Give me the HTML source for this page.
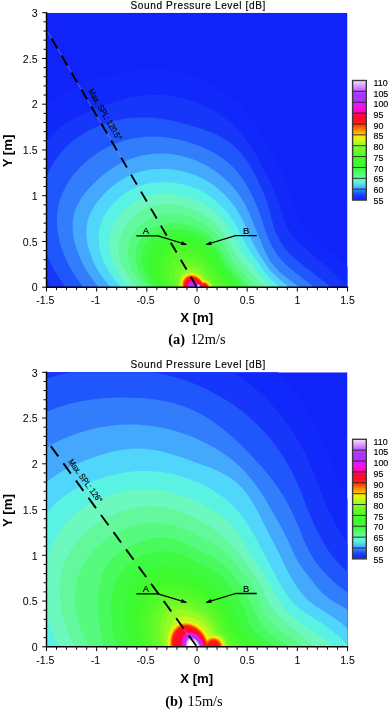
<!DOCTYPE html>
<html><head><meta charset="utf-8"><title>Sound Pressure Level</title>
<style>
html,body{margin:0;padding:0;background:#fff;}
body{width:388px;height:710px;overflow:hidden;}
svg{display:block;}
text{font-family:"Liberation Sans",sans-serif;fill:#000;}
.tk text{font-size:10.6px;}
.cb text{font-size:8.9px;stroke:#000;stroke-width:0.15px;}
.ti{font-size:10.1px;letter-spacing:0.62px;stroke:#000;stroke-width:0.15px;}
.xl{font-size:13.2px;font-weight:bold;}
.cap{font-family:"Liberation Serif",serif;font-size:14.4px;}
.cap tspan{font-family:"Liberation Serif",serif;}
.mx{font-size:7.4px;fill:#000;opacity:0.9;stroke:#000;stroke-width:0.2px;}
.ab{font-size:9.5px;stroke:#000;stroke-width:0.15px;}
</style></head><body>
<svg width="388" height="710" viewBox="0 0 388 710">
<rect width="388" height="710" fill="#fff"/>
<clipPath id="cp12"><rect x="46.50" y="12.70" width="301.00" height="274.50"/></clipPath>
<g clip-path="url(#cp12)" shape-rendering="geometricPrecision">
<rect x="46.5" y="12.7" width="301.0" height="274.5" fill="#1024fa"/>
<path fill="#1128fa" d="M140.8,69.7L148.0,69.4L155.5,69.4L162.5,69.8L169.5,70.6L176.5,71.8L183.5,73.4L190.0,75.3L196.5,77.5L203.0,80.2L209.0,83.1L215.0,86.4L221.0,90.1L226.5,94.0L232.0,98.4L237.5,103.3L242.5,108.2L246.5,112.6L250.5,117.5L254.5,122.8L258.3,128.2L265.7,140.2L273.8,155.2L280.0,167.7L284.7,178.2L288.8,189.2L295.3,208.7L297.5,214.7L300.4,221.2L303.3,226.2L305.5,229.2L308.0,232.2L314.6,238.7L320.8,244.2L339.3,259.7L348.5,267.6L348.5,288.2L45.5,288.2L45.5,103.9L55.1,97.7L66.3,91.7L79.5,85.7L93.5,80.3L106.0,76.2L118.0,73.1L129.5,71.0Z"/>
<path fill="#1637fa" d="M148.6,95.2L155.0,95.0L161.0,95.1L167.0,95.5L173.3,96.2L179.0,97.2L183.6,98.2L189.1,99.7L195.1,101.7L200.2,103.7L205.7,106.2L210.5,108.7L215.6,111.7L220.5,114.9L225.0,118.3L229.5,122.0L234.0,126.1L240.7,133.2L244.8,138.2L247.8,142.2L254.7,152.7L261.8,165.2L268.7,178.7L273.8,189.7L277.8,200.2L285.6,223.2L288.3,229.2L291.3,234.2L295.4,239.2L300.5,244.3L307.0,250.0L327.5,267.2L338.0,276.7L348.5,287.2L348.5,288.2L45.5,288.2L45.5,287.3L52.5,287.2L48.7,282.2L45.5,277.5L45.5,141.6L49.4,137.2L52.5,134.1L58.0,129.3L62.5,125.9L68.5,121.9L73.5,118.9L80.0,115.5L87.5,111.9L95.5,108.5L104.5,105.0L112.0,102.4L120.5,99.9L128.5,98.0L134.5,96.8L141.5,95.8Z"/>
<path fill="#1f57fc" d="M134.5,117.7L140.5,117.4L146.5,117.5L153.0,117.8L159.0,118.4L165.5,119.4L171.5,120.5L178.0,121.9L185.5,123.9L202.0,129.0L209.0,131.5L215.0,134.0L220.5,136.7L224.9,139.2L230.0,142.7L233.1,145.2L236.4,148.2L239.0,150.9L241.5,153.7L245.0,158.2L249.0,164.1L251.5,168.3L257.0,178.6L263.0,191.7L266.5,200.7L268.5,207.2L273.0,224.2L275.0,230.2L276.5,233.9L278.5,238.1L280.5,241.7L282.5,244.8L285.0,248.2L288.0,251.7L291.9,255.7L296.3,259.7L305.5,267.2L323.0,280.7L332.2,288.2L45.5,288.2L45.5,287.4L65.5,287.2L59.5,278.8L54.0,269.8L49.0,259.8L45.5,251.2L45.5,179.2L48.0,173.2L50.5,168.2L54.0,162.2L57.0,157.8L61.0,152.7L65.0,148.3L69.2,144.2L74.5,139.7L80.0,135.7L84.0,133.2L89.3,130.2L95.5,127.2L101.7,124.7L107.5,122.7L114.8,120.7L122.0,119.2L129.0,118.2Z"/>
<path fill="#327dfc" d="M147.3,136.7L152.5,136.6L158.0,136.7L163.5,137.1L169.0,137.8L174.5,138.7L180.0,139.9L185.5,141.3L191.5,143.2L197.5,145.3L203.0,147.5L208.0,149.7L213.0,152.3L217.5,154.9L221.8,157.7L225.8,160.7L229.5,163.8L235.0,169.3L240.5,176.0L245.5,183.3L250.3,191.7L254.2,199.7L257.8,208.2L260.5,215.7L265.6,231.2L268.5,238.7L272.3,246.7L276.5,253.7L279.1,257.2L282.0,260.6L285.0,263.7L288.7,267.2L294.8,272.2L315.4,288.2L45.5,288.2L45.5,287.6L83.4,287.2L78.4,280.7L73.7,273.7L69.6,266.7L66.1,259.7L63.2,252.7L60.6,245.2L58.9,238.2L57.6,231.2L57.0,224.2L56.9,217.7L57.4,211.2L58.6,204.7L60.3,198.7L62.6,192.7L65.5,186.7L69.2,180.7L72.5,176.1L76.1,171.7L80.2,167.2L84.5,163.1L89.0,159.2L93.5,155.7L98.5,152.3L103.5,149.3L108.5,146.7L113.5,144.4L119.0,142.3L124.5,140.5L130.0,139.1L136.0,137.9L141.5,137.2Z"/>
<path fill="#44a9fc" d="M153.9,153.7L163.0,153.4L168.0,153.7L172.6,154.2L178.5,155.2L183.0,156.2L191.5,158.8L196.5,160.7L200.9,162.7L209.5,167.3L213.5,169.9L218.0,173.1L225.5,179.4L231.0,184.8L236.1,190.7L240.5,196.8L244.5,203.3L247.0,208.2L249.2,213.2L264.5,250.4L267.5,256.6L271.0,262.3L275.0,267.3L280.5,272.7L285.5,276.7L300.8,288.2L54.8,288.2L54.8,287.7L98.9,287.2L95.1,282.7L91.7,278.2L87.7,272.2L84.7,267.2L81.8,261.7L79.3,256.2L77.2,250.7L75.3,244.7L74.1,240.2L73.2,234.7L72.7,229.7L72.6,224.7L72.9,220.2L73.6,215.7L74.7,211.7L76.1,207.7L78.3,203.2L81.2,198.2L84.1,194.2L88.3,189.2L93.5,183.7L99.0,178.5L105.0,173.5L110.5,169.4L115.0,166.5L120.5,163.3L125.5,160.9L131.5,158.5L136.5,156.9L142.5,155.4L148.0,154.4Z"/>
<path fill="#4fd6fa" d="M153.4,169.2L162.5,168.8L167.5,168.9L172.0,169.3L181.0,170.7L189.5,172.9L197.5,175.9L205.5,180.0L213.0,184.8L220.0,190.4L225.0,195.1L229.7,200.2L234.0,205.6L237.8,211.2L240.1,215.2L242.7,220.2L251.5,239.7L255.8,248.2L260.7,256.7L267.0,266.2L270.5,270.7L274.0,274.4L278.0,278.0L290.1,288.2L73.5,288.2L73.5,287.7L110.7,287.2L107.2,283.2L103.7,278.7L100.5,274.2L97.7,269.7L95.2,265.2L92.8,260.2L90.8,255.2L89.3,250.7L88.1,246.2L87.1,241.7L86.6,237.2L86.3,232.7L86.5,228.7L86.9,224.7L87.8,220.7L89.0,216.7L90.9,212.2L93.0,208.2L95.9,203.7L99.0,199.7L102.9,195.2L107.0,191.1L111.5,187.1L116.0,183.5L120.1,180.7L124.5,178.1L129.0,175.8L133.5,173.8L138.0,172.3L143.0,170.9L148.0,169.9Z"/>
<path fill="#5af3e3" d="M154.0,182.7L162.5,182.2L171.5,182.6L180.0,183.7L188.0,185.6L195.5,188.2L202.0,191.2L208.6,195.2L215.2,200.2L219.7,204.2L224.1,208.7L228.0,213.3L232.0,218.7L234.9,223.2L237.5,227.8L245.2,243.2L248.3,248.7L251.2,253.2L258.0,262.2L264.8,272.2L266.8,274.7L269.5,277.6L280.5,288.2L89.7,288.2L89.7,287.7L121.0,287.2L117.8,283.7L114.6,279.7L109.4,272.2L106.8,267.7L104.8,263.7L103.3,260.2L101.6,255.7L100.3,251.2L99.6,247.7L98.9,243.2L98.6,239.2L98.6,235.2L99.0,231.7L99.7,227.7L100.7,224.2L102.1,220.2L104.0,216.3L106.0,212.9L108.6,209.2L111.5,205.5L115.0,201.7L118.7,198.2L122.4,195.2L126.0,192.6L129.9,190.2L133.8,188.2L137.2,186.7L141.5,185.2L145.2,184.2L149.5,183.3Z"/>
<path fill="#6cf8bf" d="M157.3,194.2L164.5,193.8L172.5,194.3L180.0,195.3L187.5,197.1L194.0,199.3L200.5,202.3L206.5,205.9L212.0,209.9L216.4,213.7L220.3,217.7L224.0,222.0L227.5,226.6L230.2,230.7L233.0,235.4L241.3,251.2L243.5,254.7L246.0,258.2L252.5,266.0L259.8,275.2L263.2,278.7L272.9,288.2L99.9,288.2L99.9,287.7L129.8,287.2L123.9,280.7L119.2,274.2L115.2,267.2L113.6,263.7L112.0,259.7L110.8,255.7L110.0,252.2L109.5,248.7L109.2,245.2L109.2,241.7L109.4,238.2L110.0,234.9L110.8,231.7L112.0,228.2L113.6,224.7L115.5,221.4L117.6,218.2L120.0,215.1L123.0,211.7L126.0,208.7L129.5,205.6L132.5,203.3L135.8,201.2L139.0,199.4L142.5,197.8L146.0,196.5L149.5,195.5L153.5,194.7Z"/>
<path fill="#64f89d" d="M163.0,204.2L169.4,204.2L175.5,204.8L182.5,206.0L189.0,207.8L194.5,209.8L200.0,212.5L205.0,215.5L210.5,219.5L214.0,222.6L217.0,225.7L220.1,229.2L223.2,233.2L226.3,237.7L228.8,241.7L236.5,255.7L240.0,260.7L253.9,276.2L266.0,288.2L109.2,288.2L109.2,287.7L137.5,287.2L131.9,281.2L127.4,275.2L123.9,269.2L122.5,266.2L121.0,262.3L119.5,256.7L118.9,253.7L118.6,249.7L118.6,246.7L118.9,243.2L120.1,237.7L121.0,235.1L122.5,231.7L124.4,228.2L126.4,225.2L128.8,222.2L131.5,219.1L134.5,216.2L137.5,213.6L140.1,211.7L143.4,209.7L146.3,208.2L149.9,206.7L155.5,205.2L158.5,204.6Z"/>
<path fill="#55fa7e" d="M162.8,214.7L168.5,214.2L174.5,214.4L181.0,215.1L187.5,216.4L193.0,218.1L198.5,220.5L203.5,223.3L208.0,226.5L211.5,229.5L214.5,232.4L217.5,235.7L220.5,239.6L225.1,246.7L231.6,258.7L235.1,263.7L247.4,277.7L258.0,288.2L119.3,288.2L119.3,287.7L144.4,287.2L139.8,282.2L136.0,277.2L132.7,271.7L130.3,266.2L128.5,260.2L127.7,254.7L127.8,249.2L128.6,244.2L129.5,241.3L130.5,238.7L133.3,233.7L137.0,228.8L141.5,224.3L146.4,220.7L151.5,217.9L157.0,215.9Z"/>
<path fill="#48fa5b" d="M167.0,223.5L174.5,223.1L180.5,223.4L187.0,224.4L191.0,225.4L195.5,227.0L200.0,229.1L204.0,231.4L207.5,234.0L212.6,238.7L215.3,241.7L217.7,244.7L221.3,250.2L227.5,261.7L231.0,266.7L236.4,272.7L241.5,278.9L250.9,288.2L128.2,288.2L128.2,287.7L150.5,287.2L146.8,283.2L142.7,277.7L139.9,272.7L137.8,267.7L136.3,262.2L135.7,257.2L135.8,252.7L136.8,247.7L138.7,242.7L141.4,238.2L144.8,234.2L149.0,230.5L154.0,227.4L158.5,225.5L164.0,223.9Z"/>
<path fill="#3efa41" d="M169.8,229.2L174.5,228.8L179.5,228.9L184.5,229.4L189.5,230.4L194.0,231.8L198.0,233.5L202.0,235.7L206.0,238.5L208.5,240.6L211.2,243.2L213.5,245.7L215.8,248.7L218.8,253.2L224.7,263.7L228.2,268.7L237.0,279.2L245.9,288.2L134.7,288.2L134.7,287.7L155.0,287.2L151.3,283.2L148.0,278.7L145.5,274.2L143.6,269.7L142.3,265.2L141.7,260.7L141.7,256.2L142.5,251.7L143.8,247.7L146.0,243.6L149.0,239.7L152.1,236.7L156.0,234.0L160.0,231.9L164.5,230.3Z"/>
<path fill="#3cfa34" d="M173.7,234.2L178.0,233.9L182.5,234.1L187.0,234.7L191.0,235.7L195.0,237.1L198.5,238.7L202.0,240.7L205.5,243.3L210.0,247.4L214.0,252.1L216.4,255.7L221.9,265.2L226.1,271.2L233.1,279.7L241.4,288.2L140.6,288.2L140.6,287.7L159.0,287.2L155.8,283.7L152.9,279.7L150.3,275.2L148.7,271.2L147.6,267.2L147.1,262.7L147.2,258.2L147.9,254.2L149.4,250.2L151.3,246.7L154.0,243.4L157.0,240.7L160.5,238.3L164.5,236.5L169.0,235.0Z"/>
<path fill="#3ffa2f" d="M175.8,238.7L179.5,238.5L183.5,238.8L187.5,239.3L191.5,240.3L195.0,241.5L198.5,243.1L202.0,245.2L205.0,247.4L209.0,251.1L212.4,255.2L214.5,258.4L219.5,267.0L223.5,272.7L230.0,280.6L237.4,288.2L145.8,288.2L145.8,287.7L162.4,287.2L159.2,283.7L156.7,280.2L154.7,276.7L153.0,272.7L152.0,268.7L151.5,264.7L151.7,260.7L152.4,256.7L153.7,253.2L155.7,249.7L158.1,246.7L160.9,244.2L164.0,242.2L167.5,240.6L171.5,239.4Z"/>
<path fill="#41fa2a" d="M174.5,243.2L178.0,242.8L182.0,242.8L186.0,243.2L190.0,244.0L193.5,245.0L197.0,246.4L200.5,248.3L203.5,250.3L207.3,253.7L210.5,257.5L212.7,260.7L217.7,269.2L221.2,274.2L227.0,281.2L233.8,288.2L150.5,288.2L150.5,287.7L165.6,287.2L162.8,284.2L160.5,281.2L158.7,278.2L157.2,274.7L156.2,271.2L155.7,267.7L155.6,264.2L156.1,260.7L157.1,257.2L158.5,254.2L160.1,251.7L162.5,249.0L165.0,247.0L168.0,245.3L171.0,244.1Z"/>
<path fill="#4afa2a" d="M178.0,246.7L181.0,246.6L184.5,246.8L188.5,247.4L192.0,248.2L195.0,249.2L198.0,250.6L201.0,252.3L203.5,254.1L206.5,256.9L209.3,260.2L211.3,263.2L215.7,270.7L218.9,275.2L224.2,281.7L230.4,288.2L154.7,288.2L154.7,287.7L168.4,287.2L166.0,284.7L163.7,281.7L161.9,278.7L160.6,275.7L159.8,272.7L159.3,269.2L159.4,265.7L159.9,262.2L160.9,259.2L162.3,256.2L164.1,253.7L166.5,251.3L169.0,249.5L172.0,248.1L175.0,247.2Z"/>
<path fill="#52fa2a" d="M178.9,250.2L184.1,250.2L187.9,250.7L192.2,251.7L197.5,253.7L199.5,254.7L202.5,256.8L205.5,259.5L208.5,263.2L213.3,271.2L216.7,276.2L221.2,281.7L227.4,288.2L158.7,288.2L158.6,287.7L171.0,287.2L169.5,285.7L167.0,282.7L165.5,280.3L164.0,277.1L163.0,273.2L162.7,269.7L163.0,265.6L164.0,261.8L165.0,259.6L166.5,257.1L168.2,255.2L170.5,253.2L173.2,251.7L176.0,250.7Z"/>
<path fill="#5ffa29" d="M183.4,256.7L186.0,256.7L188.5,256.8L193.5,257.9L198.0,259.7L200.0,260.8L202.0,262.3L204.0,264.2L206.1,266.7L211.0,274.7L213.5,278.2L217.6,283.2L222.4,288.2L164.8,288.2L164.8,287.7L175.5,287.2L175.5,286.9L173.5,284.7L171.7,282.2L170.6,280.2L169.8,278.2L169.3,275.7L169.1,273.2L169.2,270.7L169.7,268.2L170.5,265.7L171.5,263.7L173.0,261.7L174.5,260.2L176.5,258.8L178.5,257.8L181.0,257.0Z"/>
<path fill="#6cfa28" d="M185.3,262.2L189.5,262.1L194.0,262.8L197.5,264.2L201.0,266.5L203.0,268.3L204.6,270.2L208.5,276.7L210.6,279.7L213.9,283.7L218.3,288.2L170.0,288.2L170.0,287.7L175.5,287.4L176.3,287.2L176.0,282.7L174.8,279.7L174.3,276.7L174.4,273.7L175.1,270.7L176.5,267.7L177.7,266.2L179.0,264.9L180.5,263.9L182.0,263.1Z"/>
<path fill="#81fb25" d="M187.2,266.7L190.5,266.4L194.0,266.9L197.0,267.9L200.0,269.8L201.6,271.2L203.3,273.2L206.6,278.7L209.0,279.9L210.9,281.7L212.1,283.7L213.0,286.3L214.8,288.2L174.4,288.2L174.4,287.7L177.8,287.2L177.5,284.2L177.6,281.2L178.5,277.7L178.9,274.7L180.1,271.7L181.5,269.9L183.0,268.5L185.0,267.4Z"/>
<path fill="#97fc23" d="M189.6,270.2L192.5,270.0L195.0,270.5L197.5,271.5L199.5,272.8L202.0,275.3L204.5,279.2L206.5,279.6L207.9,280.2L209.3,281.2L210.2,282.2L211.0,283.3L211.6,284.7L211.9,286.2L212.0,288.2L178.0,288.2L178.0,287.7L179.2,287.2L178.9,284.2L179.1,281.2L179.8,278.7L180.8,276.7L182.5,274.6L185.5,272.0L187.5,270.8Z"/>
<path fill="#bdfa1e" d="M188.8,272.7L190.5,272.5L192.5,272.6L194.5,273.0L197.0,274.0L198.5,274.8L200.5,276.4L204.0,280.0L206.0,280.4L208.0,281.3L209.5,282.7L210.5,284.2L211.1,286.2L211.1,288.2L180.5,288.2L180.0,285.2L180.1,282.7L180.6,280.2L181.5,277.9L182.7,276.2L184.5,274.5L186.5,273.4Z"/>
<path fill="#e2f814" d="M188.9,273.7L190.5,273.5L192.5,273.6L196.0,274.6L198.0,275.6L200.0,277.0L201.7,278.7L203.5,280.8L205.5,281.0L207.5,281.9L209.0,283.2L209.9,284.7L210.3,286.2L210.3,288.2L181.4,288.2L180.9,285.7L180.9,283.2L181.4,280.7L182.2,278.7L183.5,276.8L185.0,275.4L187.0,274.3Z"/>
<path fill="#fbec0a" d="M190.5,274.2L193.5,274.4L196.5,275.5L198.0,276.3L200.0,277.8L201.8,279.7L203.0,281.3L205.5,281.6L206.5,281.9L207.5,282.6L208.6,283.7L209.5,285.2L209.8,286.7L209.7,288.2L182.0,288.2L181.6,285.7L181.6,283.2L182.1,280.7L183.0,278.7L184.5,276.8L186.5,275.3L188.5,274.5Z"/>
<path fill="#ffbd05" d="M188.3,275.2L190.5,274.8L193.0,274.9L195.5,275.6L197.5,276.6L200.2,278.7L203.0,281.9L204.5,281.9L205.5,282.1L206.5,282.5L207.6,283.2L208.5,284.3L209.1,285.7L209.3,286.7L209.3,288.2L182.5,288.2L182.2,286.2L182.1,284.2L182.3,282.2L182.9,280.2L183.7,278.7L185.0,277.2L186.5,276.0Z"/>
<path fill="#ff9705" d="M188.6,275.7L190.5,275.3L193.0,275.4L195.0,275.9L197.5,277.2L200.1,279.2L201.4,280.7L202.5,282.3L204.5,282.3L205.5,282.5L206.5,283.0L207.4,283.7L208.2,284.7L208.7,285.7L208.9,286.7L208.8,288.2L183.0,288.2L182.6,286.2L182.6,284.2L182.8,282.2L183.3,280.7L184.4,278.7L185.5,277.5L187.0,276.4Z"/>
<path fill="#ff6805" d="M188.7,276.2L191.0,275.8L193.0,275.9L195.5,276.6L197.5,277.7L200.0,279.7L202.5,283.0L204.0,282.7L205.0,282.8L206.0,283.2L207.0,283.9L207.7,284.7L208.2,285.7L208.5,287.2L208.4,288.2L183.5,288.2L183.1,286.2L183.0,284.2L183.3,282.2L183.8,280.7L184.7,279.2L186.0,277.7L187.5,276.7Z"/>
<path fill="#ff3d08" d="M189.0,276.7L191.0,276.3L193.0,276.4L195.0,277.0L197.0,277.9L199.5,279.9L201.0,281.6L202.0,283.2L202.5,283.5L203.5,283.3L204.5,283.3L205.5,283.5L206.6,284.2L207.4,285.2L207.8,286.2L208.0,287.2L207.8,288.2L184.0,288.2L183.6,286.2L183.5,284.7L183.8,282.7L184.2,281.2L185.0,279.7L186.0,278.5L187.5,277.4Z"/>
<path fill="#ff1914" d="M189.7,277.2L191.5,277.0L193.7,277.2L195.2,277.7L197.1,278.7L198.5,279.7L200.0,281.2L202.0,284.3L203.5,283.8L204.5,283.8L205.5,284.1L206.3,284.7L207.3,286.2L207.4,287.2L207.3,288.2L184.5,288.2L184.1,284.7L184.5,282.3L185.0,281.1L185.5,280.2L186.8,278.7L188.3,277.7Z"/>
<path fill="#ff101e" d="M190.6,278.2L192.0,278.1L193.5,278.3L195.0,278.7L196.9,279.7L198.1,280.7L199.6,282.2L200.6,283.7L201.5,285.8L202.0,286.2L202.5,285.5L203.5,285.0L204.5,285.0L205.5,285.5L206.2,286.7L206.0,288.2L185.6,288.2L185.2,286.2L185.2,284.7L185.4,283.2L186.0,281.7L187.0,280.2L188.0,279.3L189.0,278.7Z"/>
<path fill="#ff0829" d="M189.7,279.7L191.5,279.2L193.5,279.3L195.5,280.0L197.0,281.0L198.3,282.2L199.4,283.7L200.9,285.2L201.0,288.2L186.6,288.2L186.2,286.7L186.2,285.2L186.7,282.7L188.0,280.8Z"/>
<path fill="#ff0554" d="M190.7,280.2L193.0,280.0L195.0,280.6L197.0,281.9L198.7,283.7L199.5,283.8L200.8,285.2L200.9,287.2L200.5,287.7L200.4,288.2L187.3,288.2L186.9,285.7L187.1,284.2L187.4,283.2L188.0,282.1L188.8,281.2Z"/>
<path fill="#ff08bf" d="M191.4,280.7L193.0,280.6L194.5,281.0L196.5,282.2L198.0,283.7L199.5,283.9L200.7,285.2L200.8,285.7L200.8,287.2L200.2,288.2L187.9,288.2L187.5,285.7L187.8,283.7L188.4,282.7L189.5,281.5L190.5,280.9Z"/>
<path fill="#f70ed8" d="M190.5,281.5L192.5,281.1L194.0,281.3L196.0,282.3L197.5,283.7L199.5,284.1L200.6,285.2L200.7,285.7L200.7,287.2L200.0,288.2L188.3,288.2L187.9,285.7L188.4,283.7L189.5,282.1Z"/>
<path fill="#f014f0" d="M191.5,281.7L192.5,281.6L194.0,281.8L195.5,282.5L197.0,283.8L199.5,284.2L200.5,285.3L200.7,286.2L200.6,287.2L199.8,288.2L188.8,288.2L188.4,286.2L188.7,284.2L189.7,282.7L190.5,282.1Z"/>
<path fill="#d71eff" d="M191.6,282.2L193.0,282.1L194.0,282.3L195.5,283.0L197.0,284.3L198.0,284.0L199.3,284.2L200.0,284.7L200.5,285.5L200.6,286.2L200.5,287.2L199.7,288.2L189.2,288.2L188.9,286.2L189.1,284.7L190.0,283.1Z"/>
<path fill="#b232ff" d="M192.0,282.7L193.0,282.6L194.5,283.0L195.5,283.6L196.5,284.6L198.0,284.1L199.1,284.2L200.0,284.8L200.5,285.8L200.5,286.7L200.1,287.7L199.5,288.2L189.8,288.2L189.3,286.2L189.7,284.7L190.5,283.4Z"/>
<path fill="#af34ff" d="M191.5,284.2L192.5,283.8L194.0,284.0L195.0,284.5L196.0,285.5L196.1,285.2L197.5,284.3L198.0,284.2L199.0,284.3L200.1,285.2L200.5,286.2L200.4,286.7L200.0,287.6L199.3,288.2L190.8,288.2L190.5,287.2L190.5,285.8L191.0,284.7Z"/>
<path fill="#ab35ff" d="M197.1,284.7L198.0,284.3L198.5,284.3L199.5,284.7L200.0,285.2L200.3,286.2L200.1,287.2L199.7,287.7L198.9,288.2L197.7,288.2L197.0,287.9L196.5,287.9L196.2,287.7L196.0,287.2L196.3,285.7ZM192.3,285.7L193.0,285.4L193.5,285.4L194.5,285.8L195.0,286.4L195.3,287.2L195.2,288.2L192.4,288.2L192.1,287.7L191.9,286.7Z"/>
<path fill="#a837ff" d="M197.4,284.7L198.5,284.5L199.2,284.7L199.8,285.2L200.0,285.7L200.1,286.7L199.5,287.7L199.0,288.0L198.0,288.1L197.0,287.6L196.5,287.7L196.0,287.2L196.5,286.7L196.4,286.2L196.8,285.2ZM193.3,287.2L193.5,286.9L193.8,287.2L193.5,287.4Z"/>
<path fill="#c66aff" d="M197.8,284.7L199.0,284.8L199.6,285.2L199.9,285.7L199.9,286.7L199.5,287.5L199.0,287.8L198.0,287.9L197.0,287.3L196.5,287.7L196.0,287.2L196.7,286.7L196.6,286.2L197.0,285.2Z"/>
<path fill="#d48aff" d="M197.3,285.2L198.0,284.8L198.5,284.8L199.3,285.2L199.8,286.2L199.5,287.2L198.8,287.7L198.0,287.8L197.5,287.6L197.0,287.0L196.5,287.7L196.0,287.2L196.5,286.7L196.9,286.7L196.9,285.7Z"/>
<path fill="#e1abff" d="M197.7,285.2L198.5,285.1L199.0,285.2L199.4,285.7L199.5,286.7L199.0,287.4L198.0,287.5L197.4,287.2L197.0,286.2L197.2,285.7ZM196.0,287.2L196.5,286.7L197.0,287.2L196.5,287.7Z"/>
<path fill="#f0d3ff" d="M197.5,285.7L198.0,285.3L198.5,285.3L199.0,285.6L199.3,286.2L199.0,287.0L198.5,287.3L198.0,287.3L197.5,286.9L197.3,286.2ZM196.0,287.2L196.5,286.7L197.0,287.2L196.5,287.7Z"/>
<path fill="#fffaff" d="M198.0,285.7L198.5,285.7L199.0,286.2L198.5,286.8L197.9,286.7L197.7,286.2ZM196.0,287.2L196.5,286.7L197.0,287.2L196.5,287.7Z"/>
</g>
<clipPath id="cp372"><rect x="46.50" y="372.30" width="301.00" height="274.50"/></clipPath>
<g clip-path="url(#cp372)" shape-rendering="geometricPrecision">
<rect x="46.5" y="372.3" width="301.0" height="274.5" fill="#1024fa"/>
<path fill="#1128fa" d="M45.5,371.3L277.2,371.3L282.5,377.0L287.5,382.8L292.4,388.8L297.0,394.8L301.5,401.2L305.6,407.3L309.6,413.8L313.6,420.8L318.8,430.8L323.6,441.3L328.4,452.8L339.9,482.3L344.0,491.8L348.5,501.3L348.5,647.8L45.5,647.8Z"/>
<path fill="#1637fa" d="M45.5,371.3L231.8,371.3L239.0,376.1L246.0,381.3L253.0,386.9L259.5,392.6L265.0,397.8L270.5,403.5L275.5,409.0L280.5,415.0L285.0,420.8L289.7,427.3L294.0,433.8L298.0,440.3L304.0,451.3L309.2,462.3L313.8,473.3L323.9,499.3L327.1,506.8L330.6,514.3L335.0,522.9L339.7,531.3L344.1,538.3L348.5,544.5L348.5,647.8L45.5,647.8Z"/>
<path fill="#1f57fc" d="M67.5,373.1L77.0,371.3L148.7,371.3L162.5,374.0L174.5,377.1L187.0,381.1L198.5,385.6L209.0,390.5L220.0,396.4L229.6,402.3L239.5,409.3L244.6,413.3L250.5,418.3L258.5,425.9L266.0,433.8L271.0,439.7L275.0,444.9L282.0,454.8L285.5,460.4L289.0,466.4L293.5,475.0L297.8,484.3L301.7,493.8L309.0,512.8L313.5,523.3L319.0,534.6L325.0,545.3L330.0,552.9L335.5,560.0L341.4,566.3L348.5,572.6L348.5,647.8L45.5,647.8L45.5,379.0L52.0,377.0L59.0,375.1Z"/>
<path fill="#327dfc" d="M111.0,397.8L122.0,397.5L133.0,397.7L143.7,398.3L153.2,399.3L162.7,400.8L171.7,402.8L180.4,405.3L188.7,408.3L196.5,411.8L204.0,415.8L211.2,420.3L218.5,425.5L225.5,431.0L233.0,437.5L241.0,445.0L250.1,454.3L260.8,465.8L268.8,475.3L276.7,485.8L283.0,495.3L288.0,504.1L293.0,514.2L297.0,523.2L304.2,540.8L307.6,548.3L311.0,554.7L315.0,560.9L318.0,564.9L322.0,569.8L326.5,574.8L330.5,578.8L335.0,583.0L339.5,586.7L344.0,590.1L348.5,593.2L348.5,647.8L45.5,647.8L45.5,412.3L52.8,409.3L59.9,406.8L68.2,404.3L76.4,402.3L84.0,400.8L93.7,399.3L103.0,398.3Z"/>
<path fill="#44a9fc" d="M120.4,424.8L128.5,424.5L136.5,424.6L144.5,425.2L152.5,426.1L160.5,427.5L168.5,429.3L177.0,431.6L185.0,434.3L193.0,437.3L201.5,441.0L209.5,445.0L216.5,449.0L223.0,453.1L229.0,457.4L235.5,462.7L241.0,467.8L247.2,474.3L253.7,482.3L259.8,490.8L265.3,499.3L274.3,514.8L283.1,530.8L287.1,538.8L293.7,553.3L296.7,559.3L300.3,565.3L304.2,570.8L317.2,587.3L320.7,591.3L324.3,594.8L327.9,597.8L332.3,600.8L348.5,610.4L348.5,647.8L45.5,647.8L45.5,448.1L54.0,443.3L62.4,439.3L71.0,435.7L81.0,432.3L91.5,429.3L100.7,427.3L110.5,425.7Z"/>
<path fill="#4fd6fa" d="M131.7,448.8L137.0,448.6L142.5,448.7L148.0,449.2L153.5,449.9L159.5,451.1L165.5,452.5L179.0,456.6L207.0,466.6L213.8,469.3L219.5,471.8L224.4,474.3L229.5,477.3L235.0,481.3L238.5,484.3L241.5,487.3L246.5,493.3L251.0,499.8L254.0,504.8L258.0,512.1L267.3,530.8L277.5,550.3L288.7,573.3L294.5,583.3L300.0,591.3L305.0,597.3L308.0,600.3L311.0,602.8L316.5,606.8L330.5,615.5L336.5,619.5L343.0,624.6L348.5,629.7L348.5,647.8L45.5,647.8L45.5,482.9L49.0,480.1L54.0,476.5L58.5,473.6L63.5,470.6L73.5,465.5L85.0,460.6L97.5,456.0L109.5,452.4L115.5,451.0L121.0,450.0L126.1,449.3Z"/>
<path fill="#5af3e3" d="M135.8,471.3L141.5,471.0L147.5,470.9L153.0,471.2L159.0,471.7L165.0,472.6L171.5,473.8L177.6,475.3L182.8,476.8L190.2,479.3L196.5,481.8L202.1,484.3L207.1,486.8L212.5,489.8L217.5,493.0L222.0,496.2L226.5,499.7L232.5,505.2L237.7,510.8L243.2,517.8L248.3,525.3L252.9,532.8L258.1,542.3L280.5,584.8L286.0,593.9L291.0,600.8L295.3,605.3L300.0,609.3L305.5,613.0L321.9,623.3L327.6,627.3L334.0,632.3L341.9,639.3L348.5,645.8L348.5,647.8L45.5,647.8L45.5,515.5L49.0,510.8L52.4,506.8L56.3,502.8L60.2,499.3L64.0,496.3L69.0,492.8L74.9,489.3L80.5,486.4L87.0,483.4L93.5,480.9L100.5,478.5L108.5,476.1L115.0,474.5L122.0,473.1L129.0,472.0Z"/>
<path fill="#6cf8bf" d="M138.5,489.3L143.5,489.0L148.5,489.0L153.5,489.3L158.0,489.8L167.5,491.5L178.0,494.5L184.0,496.6L190.0,499.0L198.0,502.5L204.5,505.6L214.0,510.8L218.5,513.8L222.6,516.8L227.2,520.8L231.5,525.2L235.5,530.0L239.6,535.8L251.5,554.8L262.3,570.8L266.3,577.8L273.7,592.3L276.7,597.8L280.9,604.3L284.5,609.0L289.7,614.3L296.9,620.3L304.6,625.8L324.9,639.8L335.8,647.8L45.5,647.8L45.5,647.0L59.5,646.8L55.0,638.1L51.0,628.7L48.0,619.8L45.5,609.8L45.5,567.7L47.6,558.8L50.3,550.3L53.5,542.6L57.5,535.0L60.5,530.3L63.5,526.1L67.0,521.9L71.0,517.8L75.5,513.8L80.0,510.3L84.5,507.3L88.6,504.8L94.4,501.8L101.0,498.8L107.5,496.3L113.5,494.3L118.7,492.8L125.0,491.3L131.5,490.1Z"/>
<path fill="#64f89d" d="M138.5,506.8L147.0,505.9L151.5,505.8L160.0,506.4L165.5,507.3L170.0,508.3L179.5,511.3L184.8,513.3L190.4,515.8L202.0,521.8L211.5,527.5L216.5,531.1L220.5,534.2L227.0,540.1L233.2,546.8L239.2,554.3L254.5,574.7L258.5,580.8L261.5,586.3L263.9,591.3L267.6,600.3L269.5,604.3L271.7,607.8L274.7,611.8L279.3,616.8L285.0,622.1L305.5,639.0L315.6,647.8L45.5,647.8L45.5,647.2L74.5,646.8L71.1,639.8L68.3,633.3L65.8,626.3L63.7,619.3L62.1,612.3L60.8,605.3L60.0,598.3L59.7,591.8L59.8,585.8L60.3,579.8L61.0,574.8L62.5,568.5L64.0,563.8L66.5,557.8L69.1,552.8L72.5,547.3L75.0,543.8L78.5,539.5L81.9,535.8L85.5,532.3L89.5,528.9L93.5,525.8L97.8,522.8L102.5,519.9L107.2,517.3L112.3,514.8L117.0,512.8L122.5,510.8L127.3,509.3L133.0,507.8Z"/>
<path fill="#55fa7e" d="M151.4,522.8L159.0,522.8L166.0,523.6L174.0,525.5L181.5,528.0L192.0,532.6L207.2,540.3L215.6,545.3L222.5,550.3L228.0,555.3L234.0,561.8L244.0,574.3L250.5,583.3L254.5,589.8L257.0,594.8L261.7,607.3L263.7,611.8L266.0,615.9L268.9,619.8L273.0,624.1L278.0,628.5L284.0,633.1L296.0,641.8L303.7,647.8L50.9,647.8L50.9,647.3L88.5,646.8L84.5,638.8L82.0,632.8L80.0,627.2L77.5,618.3L76.5,613.5L75.5,606.8L75.0,600.6L75.0,593.8L75.5,587.6L76.0,584.3L77.0,579.7L78.5,574.7L80.0,570.8L82.0,566.5L84.0,562.8L87.0,558.3L90.0,554.3L93.5,550.4L96.6,547.3L100.5,543.8L105.0,540.4L109.5,537.3L114.5,534.3L119.4,531.8L125.0,529.3L130.4,527.3L135.0,525.8L141.0,524.3L146.5,523.3Z"/>
<path fill="#48fa5b" d="M155.7,537.8L162.0,537.4L168.3,537.8L175.0,539.3L180.8,541.3L189.7,545.3L208.5,555.1L216.4,559.8L222.6,564.3L227.0,568.2L231.5,572.8L235.5,577.7L239.0,582.7L244.5,591.8L249.5,600.6L258.7,619.8L260.8,623.3L263.3,626.8L267.0,630.8L271.5,634.7L289.8,647.8L67.4,647.8L67.3,647.3L103.5,646.8L101.3,637.3L99.7,627.3L98.2,613.3L97.9,601.8L98.3,593.3L98.8,588.8L99.7,583.8L101.7,576.3L104.3,569.8L106.2,566.3L107.8,563.8L111.5,559.1L113.8,556.8L116.5,554.4L122.0,550.5L129.5,546.5L140.0,542.0L148.0,539.4L152.0,538.4Z"/>
<path fill="#3efa41" d="M155.5,551.8L161.5,551.3L167.5,551.6L174.0,552.8L179.2,554.3L188.0,557.8L206.1,566.3L212.5,569.8L217.5,573.3L222.0,577.3L227.0,582.8L234.0,591.7L238.5,598.3L240.5,601.7L242.5,605.8L244.0,609.7L246.4,616.8L248.0,620.8L250.2,624.8L253.3,629.3L256.4,632.8L260.0,636.1L275.8,647.8L88.1,647.8L88.1,647.3L117.5,646.8L115.0,639.0L113.0,630.3L111.5,620.3L110.9,612.8L111.0,604.2L112.0,595.8L113.5,588.9L115.5,583.0L118.5,576.6L122.0,571.2L126.3,566.3L128.9,563.8L131.4,561.8L135.0,559.3L137.5,557.8L142.8,555.3L148.5,553.3L152.5,552.3Z"/>
<path fill="#3cfa34" d="M158.5,566.0L163.0,565.5L166.0,565.5L172.0,566.0L179.0,567.5L185.0,569.5L193.0,573.0L202.5,578.0L209.0,582.0L214.5,586.0L219.5,590.5L223.9,595.3L226.8,598.8L230.3,603.8L232.4,607.3L234.2,610.8L235.8,614.3L238.5,621.3L240.5,625.5L243.0,629.8L245.5,633.2L249.0,636.8L251.4,638.8L263.9,647.8L104.2,647.8L104.2,647.3L130.5,646.8L128.2,641.3L126.3,634.8L125.2,629.3L124.5,622.8L124.6,613.8L125.2,607.3L126.7,598.8L128.7,591.8L130.8,586.8L133.7,581.8L136.7,577.8L140.5,574.1L142.5,572.5L145.5,570.5L149.5,568.5L152.0,567.6L155.5,566.6Z"/>
<path fill="#3ffa2f" d="M162.3,572.3L167.5,571.9L173.0,572.3L178.5,573.3L184.5,575.1L191.5,578.0L199.5,582.0L206.5,586.2L212.0,590.1L216.0,593.5L220.0,597.5L223.7,601.8L227.0,606.3L229.1,609.8L231.2,613.8L237.1,627.3L239.1,630.8L241.2,633.8L243.5,636.3L246.3,638.8L258.6,647.8L111.7,647.8L111.7,647.3L135.7,646.8L133.4,640.8L131.7,634.8L130.7,628.8L130.3,622.8L130.4,615.8L131.2,608.3L132.4,601.8L134.2,595.8L136.3,590.8L138.7,586.8L141.5,583.2L145.0,579.8L149.0,576.9L153.0,574.9L157.5,573.3Z"/>
<path fill="#41fa2a" d="M164.1,578.3L169.0,577.8L174.5,578.1L179.5,578.9L185.0,580.5L191.5,583.1L198.5,586.7L205.0,590.5L210.5,594.4L214.5,597.7L218.0,601.2L221.5,605.3L224.4,609.3L226.6,612.8L228.4,616.3L234.0,629.1L235.9,632.3L237.7,634.8L240.0,637.3L242.3,639.3L253.8,647.8L118.6,647.8L118.6,647.3L140.5,646.8L138.4,641.3L136.9,635.8L136.0,630.3L135.6,624.8L135.6,618.3L136.3,611.8L137.4,605.8L138.9,600.3L140.7,595.8L143.0,591.8L145.5,588.5L148.5,585.5L152.0,582.9L155.8,580.8L160.0,579.2Z"/>
<path fill="#4afa2a" d="M170.0,583.3L174.5,583.3L179.0,583.8L183.5,584.9L188.5,586.6L194.0,589.1L200.5,592.6L206.0,596.0L210.4,599.3L213.8,602.3L217.0,605.6L220.0,609.2L222.5,612.6L224.4,615.8L225.9,618.8L230.9,630.3L232.3,632.8L234.1,635.3L236.3,637.8L238.6,639.8L249.4,647.8L124.9,647.8L124.9,647.3L144.9,646.8L143.1,641.8L141.7,636.8L140.8,631.3L140.4,625.8L140.6,619.3L141.3,612.8L142.4,607.3L144.0,602.3L145.9,598.3L148.1,594.8L150.7,591.8L154.0,589.0L157.5,586.8L161.5,585.0L165.5,583.9Z"/>
<path fill="#52fa2a" d="M171.9,588.3L176.9,588.3L180.7,588.8L184.8,589.8L189.1,591.3L194.6,593.8L200.1,596.8L204.8,599.8L209.0,602.9L212.4,605.8L215.0,608.5L217.5,611.3L220.5,615.4L223.5,620.8L228.3,631.8L229.7,634.3L231.2,636.3L233.0,638.3L235.5,640.5L245.3,647.8L130.7,647.8L130.7,647.3L149.0,646.8L147.5,642.8L146.0,637.2L145.1,631.3L144.9,626.8L145.0,621.3L146.0,613.4L147.0,609.1L148.5,604.8L150.0,601.8L152.0,598.7L154.6,595.8L157.7,593.3L161.0,591.3L164.5,589.8L168.3,588.8Z"/>
<path fill="#5ffa29" d="M172.0,594.8L176.0,594.5L180.0,594.7L184.0,595.4L188.0,596.6L192.5,598.4L198.0,601.2L203.0,604.1L207.0,607.0L210.0,609.5L212.5,611.9L215.0,614.7L217.3,617.8L219.2,620.8L220.8,623.8L224.9,633.3L227.6,636.3L229.5,639.5L232.2,641.8L240.1,647.8L138.2,647.8L138.2,647.3L154.0,646.8L152.5,642.8L151.3,638.3L150.7,634.3L150.3,629.8L150.4,624.8L150.9,619.8L151.7,615.3L152.9,611.3L154.1,608.3L155.7,605.3L157.6,602.8L160.0,600.3L162.5,598.4L165.5,596.7L168.5,595.6Z"/>
<path fill="#6cfa28" d="M174.6,600.3L178.0,600.0L181.5,600.2L185.0,600.9L189.0,602.0L193.5,603.9L198.5,606.4L203.0,609.1L206.5,611.7L211.0,615.8L214.5,620.0L216.3,622.8L218.0,625.8L220.9,632.8L223.6,634.8L225.6,636.8L227.2,639.3L228.5,642.3L235.5,647.8L144.9,647.8L144.9,647.3L158.5,646.8L157.2,643.3L156.1,639.3L155.5,635.8L155.2,631.8L155.2,627.8L155.6,623.3L156.3,619.3L157.4,615.3L158.6,612.3L160.0,609.8L161.8,607.3L164.0,605.1L166.5,603.2L169.0,601.9L171.5,601.0Z"/>
<path fill="#81fb25" d="M176.3,605.3L179.5,605.0L182.5,605.2L186.0,605.8L189.5,606.8L193.5,608.4L198.0,610.6L202.0,612.9L205.0,615.0L209.0,618.5L212.6,622.8L215.9,628.3L217.9,633.3L221.0,634.8L222.5,635.9L224.0,637.3L225.2,638.8L226.3,640.8L227.0,642.6L227.5,644.7L231.4,647.8L150.8,647.8L150.8,647.3L162.5,646.8L161.4,643.8L160.4,640.3L159.8,637.3L159.5,633.8L159.6,629.8L160.0,625.8L160.6,622.3L161.6,618.8L162.5,616.3L163.9,613.8L165.3,611.8L167.1,609.8L169.0,608.3L171.5,606.8L174.0,605.8Z"/>
<path fill="#97fc23" d="M177.9,609.8L181.0,609.5L183.5,609.6L185.1,609.8L189.2,610.8L192.1,611.8L196.5,613.8L201.0,616.3L204.0,618.3L207.5,621.4L210.5,624.9L213.5,629.7L214.5,631.7L215.2,633.8L218.0,634.7L220.0,635.7L222.0,637.2L223.5,638.7L224.6,640.3L225.5,642.3L226.0,643.9L226.5,646.8L227.6,647.8L156.1,647.8L156.1,647.3L165.8,646.8L165.5,645.3L164.0,640.1L163.5,635.8L163.5,630.8L164.0,627.1L165.0,622.7L166.0,620.0L167.0,618.0L168.0,616.3L170.0,614.0L172.0,612.3L173.6,611.3L175.9,610.3Z"/>
<path fill="#bdfa1e" d="M180.9,616.3L183.0,616.0L185.5,616.1L188.0,616.4L190.5,617.1L193.5,618.2L196.5,619.6L202.0,622.8L205.0,625.2L207.4,627.8L209.8,631.3L211.6,634.8L212.0,635.1L215.5,635.3L217.5,635.8L220.0,637.1L222.0,638.9L223.4,640.8L224.4,642.8L225.0,645.3L225.1,647.8L163.1,647.8L163.1,647.3L166.0,647.1L167.3,646.8L166.9,641.3L167.1,638.3L167.5,635.8L168.3,632.8L170.0,628.8L170.9,625.8L172.2,622.8L174.0,620.3L176.0,618.5L178.5,617.0Z"/>
<path fill="#e2f814" d="M182.2,621.3L185.0,620.9L188.0,621.0L191.0,621.7L193.5,622.6L195.5,623.5L200.0,626.3L203.5,629.0L205.0,630.5L206.4,632.3L209.0,636.9L212.0,636.2L214.5,636.2L217.0,636.8L219.0,637.7L221.4,639.8L223.0,642.2L223.9,644.8L224.0,647.8L168.6,647.8L168.1,642.8L168.4,638.3L169.2,634.3L170.9,630.3L173.0,627.0L175.5,624.5L178.5,622.6L180.5,621.8Z"/>
<path fill="#fbec0a" d="M183.1,622.3L186.5,622.1L190.0,622.6L193.5,623.8L197.0,625.7L200.2,628.3L203.0,631.3L205.4,634.8L207.5,638.8L210.0,637.5L213.0,636.9L216.0,637.2L218.5,638.3L220.5,639.9L222.2,642.3L223.1,644.8L223.3,647.8L169.6,647.8L169.1,643.3L169.3,638.8L170.1,634.8L171.8,630.8L174.0,627.6L176.5,625.2L179.5,623.4Z"/>
<path fill="#ffbd05" d="M183.0,623.3L186.5,623.0L190.0,623.5L193.5,624.7L196.5,626.4L199.6,628.8L202.5,631.9L205.0,635.5L207.0,639.6L207.5,639.7L209.0,638.7L210.5,638.0L213.0,637.6L215.5,637.8L218.0,638.8L220.0,640.3L221.0,641.5L221.7,642.8L222.5,645.3L222.6,647.8L170.4,647.8L169.9,643.3L170.0,639.3L170.9,635.3L172.3,631.8L174.2,628.8L176.7,626.3L179.5,624.5Z"/>
<path fill="#ff9705" d="M185.1,623.8L188.5,623.9L191.5,624.7L195.0,626.2L198.0,628.3L200.7,630.8L203.2,633.8L205.0,636.8L207.0,641.1L208.0,640.1L209.5,639.1L211.0,638.5L212.5,638.2L214.0,638.2L215.5,638.5L218.0,639.5L220.0,641.3L221.3,643.3L221.9,645.3L221.9,647.8L171.0,647.8L170.5,643.3L170.8,638.8L171.8,634.8L173.4,631.3L175.6,628.3L178.5,625.9L181.5,624.5Z"/>
<path fill="#ff6805" d="M182.8,624.8L186.0,624.4L189.7,624.8L193.0,625.9L196.5,627.8L199.5,630.3L202.5,633.8L204.5,636.8L206.5,641.3L207.0,642.0L209.0,640.2L210.5,639.4L212.0,638.9L213.5,638.8L215.0,639.0L217.5,640.0L219.2,641.3L220.6,643.3L221.2,645.3L221.3,647.8L171.5,647.8L171.0,643.8L171.2,639.8L172.0,635.8L173.2,632.8L175.0,630.0L177.1,627.8L180.0,625.8Z"/>
<path fill="#ff3d08" d="M183.6,625.3L187.0,625.0L190.5,625.6L194.0,627.0L197.5,629.3L200.2,631.8L202.6,634.8L205.0,639.0L206.5,642.9L207.0,643.2L208.0,641.9L209.0,640.9L210.0,640.3L211.5,639.7L213.0,639.5L214.5,639.6L217.0,640.4L218.8,641.8L220.0,643.6L220.7,645.8L220.7,647.8L172.0,647.8L171.6,643.8L171.7,639.8L172.5,636.3L173.9,632.8L175.9,629.8L178.1,627.8L180.5,626.3Z"/>
<path fill="#ff1914" d="M185.8,625.8L189.5,626.1L193.0,627.3L196.5,629.3L199.5,632.0L202.2,635.3L204.5,639.3L205.5,641.8L206.7,645.8L206.9,647.8L172.6,647.8L172.2,643.8L172.4,639.8L173.2,636.3L174.7,632.8L177.0,629.8L179.5,627.7L182.5,626.4ZM211.4,640.8L213.0,640.5L214.5,640.6L216.0,641.0L217.5,642.0L218.7,643.3L219.4,644.8L219.7,646.3L219.6,647.8L207.2,647.8L207.2,645.8L208.0,643.5L209.5,641.8Z"/>
<path fill="#ff101e" d="M183.9,627.8L185.5,627.5L187.5,627.5L191.0,628.2L194.5,629.8L197.8,632.3L200.5,635.3L203.0,639.3L204.6,643.3L205.5,647.8L174.0,647.8L173.6,644.3L173.7,640.8L174.3,637.8L175.4,634.8L177.0,632.3L179.0,630.2L181.5,628.6ZM212.8,642.3L214.0,642.3L215.0,642.5L216.0,643.1L216.8,643.8L217.5,644.8L217.8,645.8L217.8,647.8L209.0,647.8L209.0,645.8L209.6,644.3L211.0,642.9Z"/>
<path fill="#ff0829" d="M184.0,630.3L187.0,629.9L190.2,630.3L194.0,631.8L195.5,632.8L196.0,632.9L197.0,633.9L197.5,634.0L200.7,637.3L200.9,637.8L201.8,638.8L201.9,639.3L202.7,640.3L203.2,641.3L203.4,642.3L204.2,643.8L204.4,645.3L204.7,645.8L204.8,647.8L176.0,647.8L175.6,644.8L175.7,641.8L176.1,639.3L177.0,636.7L178.4,634.3L180.0,632.6L182.0,631.1ZM212.6,645.8L213.5,645.5L214.0,645.7L214.5,646.1L214.7,646.8L214.6,647.3L214.2,647.8L212.5,647.7L212.1,646.8L212.2,646.3Z"/>
<path fill="#ff0554" d="M188.9,631.8L191.0,631.7L194.0,632.5L196.5,633.8L199.0,635.9L201.5,639.0L203.0,641.7L204.0,644.4L204.5,646.3L204.6,647.8L181.6,647.8L181.3,646.3L181.2,641.8L181.4,639.8L182.5,636.8L183.8,634.8L185.5,633.2L187.5,632.1Z"/>
<path fill="#ff08bf" d="M189.8,632.3L192.0,632.4L194.6,633.3L197.1,634.8L199.0,636.5L200.8,638.8L202.5,641.7L203.5,644.2L204.3,647.8L182.1,647.8L181.6,644.8L181.6,642.3L182.0,639.6L182.8,637.3L184.1,635.3L185.7,633.8L187.5,632.8Z"/>
<path fill="#f70ed8" d="M188.1,633.3L190.5,632.9L193.0,633.3L195.5,634.4L198.0,636.3L200.0,638.5L201.7,641.3L203.2,644.8L203.8,647.8L182.6,647.8L182.2,645.3L182.1,643.3L182.3,640.8L182.9,638.8L183.8,636.8L185.0,635.3L186.5,634.1Z"/>
<path fill="#f014f0" d="M188.8,633.8L191.0,633.6L193.5,634.1L195.9,635.3L198.0,637.0L200.0,639.3L201.5,641.9L202.7,644.8L203.3,647.8L183.1,647.8L182.7,645.8L182.6,643.3L182.9,640.8L183.5,638.8L184.5,636.9L185.5,635.7L187.0,634.5Z"/>
<path fill="#d71eff" d="M190.0,634.3L192.0,634.4L194.0,635.0L196.0,636.1L198.0,637.8L199.7,639.8L201.2,642.3L202.1,644.8L202.8,647.8L183.6,647.8L183.2,645.3L183.2,642.8L183.5,640.8L184.1,638.8L185.0,637.3L186.5,635.7L188.0,634.8Z"/>
<path fill="#b232ff" d="M189.3,635.3L191.5,635.1L193.5,635.6L195.5,636.6L197.5,638.2L199.0,639.9L200.5,642.3L201.5,644.8L202.1,647.8L184.3,647.8L183.9,645.8L183.8,643.8L184.0,641.7L184.5,639.8L185.3,638.3L186.5,636.8L188.0,635.8Z"/>
<path fill="#af34ff" d="M188.7,636.3L190.5,635.9L193.0,636.1L195.0,637.0L196.7,638.3L198.6,640.3L200.1,642.8L201.1,645.3L201.6,647.8L184.8,647.8L184.3,644.3L184.4,642.8L184.8,640.8L185.5,639.3L186.5,637.9L187.5,637.0Z"/>
<path fill="#ab35ff" d="M188.8,636.8L190.5,636.4L192.5,636.5L194.5,637.2L196.5,638.6L198.1,640.3L199.7,642.8L200.7,645.3L201.2,647.8L185.2,647.8L184.7,644.3L184.9,642.3L185.3,640.8L186.0,639.3L186.8,638.3L187.9,637.3Z"/>
<path fill="#a837ff" d="M188.9,637.3L191.0,636.8L193.0,637.1L194.7,637.8L196.5,639.1L198.0,640.8L199.5,643.2L200.5,646.1L200.8,647.8L185.6,647.8L185.2,644.8L185.5,641.7L186.0,640.3L187.0,638.8L188.0,637.8Z"/>
<path fill="#c66aff" d="M189.5,637.8L191.0,637.5L193.0,637.7L194.5,638.4L196.4,639.8L197.8,641.3L199.0,643.3L199.9,645.8L200.3,647.8L186.1,647.8L185.6,644.8L186.0,641.8L186.7,640.3L187.4,639.3L188.5,638.3Z"/>
<path fill="#d48aff" d="M190.2,638.3L192.0,638.2L193.5,638.5L195.0,639.3L196.5,640.6L197.5,641.8L198.7,643.8L199.6,646.3L199.8,647.8L186.6,647.8L186.3,646.3L186.2,644.3L186.4,642.8L186.9,641.3L187.4,640.3L188.3,639.3L189.0,638.8Z"/>
<path fill="#e1abff" d="M189.5,639.1L191.5,638.6L193.0,638.9L194.5,639.5L196.2,640.8L197.5,642.4L198.5,644.3L199.0,645.8L199.4,647.8L187.0,647.8L186.6,644.8L187.0,642.2L187.5,641.1L188.5,639.8Z"/>
<path fill="#f0d3ff" d="M191.1,639.3L192.2,639.3L193.5,639.6L195.0,640.5L196.0,641.4L197.2,642.8L198.0,644.3L198.7,646.3L198.9,647.8L187.5,647.8L187.1,644.8L187.5,642.3L188.0,641.3L189.0,640.2L190.0,639.6Z"/>
<path fill="#fffaff" d="M190.6,640.3L192.0,640.1L193.0,640.3L194.5,641.0L195.5,641.8L196.7,643.3L197.5,644.7L198.0,646.3L198.3,647.8L188.1,647.8L187.7,645.3L188.0,643.3L189.0,641.4L189.6,640.8Z"/>
</g>
<g clip-path="url(#cp12)">
<line x1="46.80" y1="30.40" x2="196.50" y2="286.60" stroke="#a8b8d0" stroke-width="0.5" opacity="0.8"/><line x1="196.50" y1="286.60" x2="46.80" y2="30.40" stroke="#000" stroke-width="1.9" stroke-dasharray="11.5 8.2"/><text class="mx" transform="translate(88.10,91.10) rotate(59.70) scale(1,1.15)">Max. SPL: 120.5°</text><path d="M136.30,235.90L158.00,235.90L186.20,244.50" stroke="#000" stroke-width="1.3" fill="none" stroke-linejoin="round"/><path d="M187.16,244.79L180.83,244.95L182.00,241.13Z" fill="#000"/><path d="M256.70,235.60L235.60,235.60L206.40,244.50" stroke="#000" stroke-width="1.3" fill="none" stroke-linejoin="round"/><path d="M205.44,244.79L210.60,241.13L211.77,244.96Z" fill="#000"/><text class="ab" x="142.8" y="234.00">A</text><text class="ab" x="243.0" y="233.60">B</text>
</g>
<g clip-path="url(#cp372)">
<line x1="46.80" y1="440.60" x2="196.30" y2="645.80" stroke="#a8b8d0" stroke-width="0.5" opacity="0.8"/><line x1="196.30" y1="645.80" x2="46.80" y2="440.60" stroke="#000" stroke-width="1.9" stroke-dasharray="12.8 8.5"/><text class="mx" transform="translate(67.90,461.70) rotate(53.92) scale(1,1.15)">Max. SPL: 126°</text><path d="M136.30,593.80L158.00,593.80L186.20,602.40" stroke="#000" stroke-width="1.3" fill="none" stroke-linejoin="round"/><path d="M187.16,602.69L180.83,602.85L182.00,599.03Z" fill="#000"/><path d="M256.70,593.50L235.60,593.50L206.40,602.40" stroke="#000" stroke-width="1.3" fill="none" stroke-linejoin="round"/><path d="M205.44,602.69L210.60,599.03L211.77,602.86Z" fill="#000"/><text class="ab" x="142.8" y="591.90">A</text><text class="ab" x="243.0" y="591.50">B</text>
</g>
<g stroke="#000" stroke-width="1" fill="none"><line x1="42.20" y1="287.20" x2="46.50" y2="287.20"/><line x1="43.50" y1="278.05" x2="46.50" y2="278.05"/><line x1="43.50" y1="268.90" x2="46.50" y2="268.90"/><line x1="43.50" y1="259.75" x2="46.50" y2="259.75"/><line x1="43.50" y1="250.60" x2="46.50" y2="250.60"/><line x1="42.20" y1="241.45" x2="46.50" y2="241.45"/><line x1="43.50" y1="232.30" x2="46.50" y2="232.30"/><line x1="43.50" y1="223.15" x2="46.50" y2="223.15"/><line x1="43.50" y1="214.00" x2="46.50" y2="214.00"/><line x1="43.50" y1="204.85" x2="46.50" y2="204.85"/><line x1="42.20" y1="195.70" x2="46.50" y2="195.70"/><line x1="43.50" y1="186.55" x2="46.50" y2="186.55"/><line x1="43.50" y1="177.40" x2="46.50" y2="177.40"/><line x1="43.50" y1="168.25" x2="46.50" y2="168.25"/><line x1="43.50" y1="159.10" x2="46.50" y2="159.10"/><line x1="42.20" y1="149.95" x2="46.50" y2="149.95"/><line x1="43.50" y1="140.80" x2="46.50" y2="140.80"/><line x1="43.50" y1="131.65" x2="46.50" y2="131.65"/><line x1="43.50" y1="122.50" x2="46.50" y2="122.50"/><line x1="43.50" y1="113.35" x2="46.50" y2="113.35"/><line x1="42.20" y1="104.20" x2="46.50" y2="104.20"/><line x1="43.50" y1="95.05" x2="46.50" y2="95.05"/><line x1="43.50" y1="85.90" x2="46.50" y2="85.90"/><line x1="43.50" y1="76.75" x2="46.50" y2="76.75"/><line x1="43.50" y1="67.60" x2="46.50" y2="67.60"/><line x1="42.20" y1="58.45" x2="46.50" y2="58.45"/><line x1="43.50" y1="49.30" x2="46.50" y2="49.30"/><line x1="43.50" y1="40.15" x2="46.50" y2="40.15"/><line x1="43.50" y1="31.00" x2="46.50" y2="31.00"/><line x1="43.50" y1="21.85" x2="46.50" y2="21.85"/><line x1="42.20" y1="12.70" x2="46.50" y2="12.70"/><line x1="46.50" y1="287.20" x2="46.50" y2="291.50"/><line x1="56.53" y1="287.20" x2="56.53" y2="290.20"/><line x1="66.57" y1="287.20" x2="66.57" y2="290.20"/><line x1="76.60" y1="287.20" x2="76.60" y2="290.20"/><line x1="86.63" y1="287.20" x2="86.63" y2="290.20"/><line x1="96.67" y1="287.20" x2="96.67" y2="291.50"/><line x1="106.70" y1="287.20" x2="106.70" y2="290.20"/><line x1="116.73" y1="287.20" x2="116.73" y2="290.20"/><line x1="126.77" y1="287.20" x2="126.77" y2="290.20"/><line x1="136.80" y1="287.20" x2="136.80" y2="290.20"/><line x1="146.83" y1="287.20" x2="146.83" y2="291.50"/><line x1="156.87" y1="287.20" x2="156.87" y2="290.20"/><line x1="166.90" y1="287.20" x2="166.90" y2="290.20"/><line x1="176.93" y1="287.20" x2="176.93" y2="290.20"/><line x1="186.97" y1="287.20" x2="186.97" y2="290.20"/><line x1="197.00" y1="287.20" x2="197.00" y2="291.50"/><line x1="207.03" y1="287.20" x2="207.03" y2="290.20"/><line x1="217.07" y1="287.20" x2="217.07" y2="290.20"/><line x1="227.10" y1="287.20" x2="227.10" y2="290.20"/><line x1="237.13" y1="287.20" x2="237.13" y2="290.20"/><line x1="247.17" y1="287.20" x2="247.17" y2="291.50"/><line x1="257.20" y1="287.20" x2="257.20" y2="290.20"/><line x1="267.23" y1="287.20" x2="267.23" y2="290.20"/><line x1="277.27" y1="287.20" x2="277.27" y2="290.20"/><line x1="287.30" y1="287.20" x2="287.30" y2="290.20"/><line x1="297.33" y1="287.20" x2="297.33" y2="291.50"/><line x1="307.37" y1="287.20" x2="307.37" y2="290.20"/><line x1="317.40" y1="287.20" x2="317.40" y2="290.20"/><line x1="327.43" y1="287.20" x2="327.43" y2="290.20"/><line x1="337.47" y1="287.20" x2="337.47" y2="290.20"/><line x1="347.50" y1="287.20" x2="347.50" y2="291.50"/></g><path d="M46.50,12.70V287.20H347.50" stroke="#000" stroke-width="1.4" fill="none" stroke-linecap="square"/><g class="tk"><text x="37.6" y="16.90" text-anchor="end">3</text><text x="37.6" y="62.65" text-anchor="end">2.5</text><text x="37.6" y="108.40" text-anchor="end">2</text><text x="37.6" y="154.15" text-anchor="end">1.5</text><text x="37.6" y="199.90" text-anchor="end">1</text><text x="37.6" y="245.65" text-anchor="end">0.5</text><text x="37.6" y="291.40" text-anchor="end">0</text><text x="45.30" y="304.40" text-anchor="middle">-1.5</text><text x="95.47" y="304.40" text-anchor="middle">-1</text><text x="145.63" y="304.40" text-anchor="middle">-0.5</text><text x="197.00" y="304.40" text-anchor="middle">0</text><text x="247.17" y="304.40" text-anchor="middle">0.5</text><text x="297.33" y="304.40" text-anchor="middle">1</text><text x="347.50" y="304.40" text-anchor="middle">1.5</text></g>
<g stroke="#000" stroke-width="1" fill="none"><line x1="42.20" y1="646.80" x2="46.50" y2="646.80"/><line x1="43.50" y1="637.65" x2="46.50" y2="637.65"/><line x1="43.50" y1="628.50" x2="46.50" y2="628.50"/><line x1="43.50" y1="619.35" x2="46.50" y2="619.35"/><line x1="43.50" y1="610.20" x2="46.50" y2="610.20"/><line x1="42.20" y1="601.05" x2="46.50" y2="601.05"/><line x1="43.50" y1="591.90" x2="46.50" y2="591.90"/><line x1="43.50" y1="582.75" x2="46.50" y2="582.75"/><line x1="43.50" y1="573.60" x2="46.50" y2="573.60"/><line x1="43.50" y1="564.45" x2="46.50" y2="564.45"/><line x1="42.20" y1="555.30" x2="46.50" y2="555.30"/><line x1="43.50" y1="546.15" x2="46.50" y2="546.15"/><line x1="43.50" y1="537.00" x2="46.50" y2="537.00"/><line x1="43.50" y1="527.85" x2="46.50" y2="527.85"/><line x1="43.50" y1="518.70" x2="46.50" y2="518.70"/><line x1="42.20" y1="509.55" x2="46.50" y2="509.55"/><line x1="43.50" y1="500.40" x2="46.50" y2="500.40"/><line x1="43.50" y1="491.25" x2="46.50" y2="491.25"/><line x1="43.50" y1="482.10" x2="46.50" y2="482.10"/><line x1="43.50" y1="472.95" x2="46.50" y2="472.95"/><line x1="42.20" y1="463.80" x2="46.50" y2="463.80"/><line x1="43.50" y1="454.65" x2="46.50" y2="454.65"/><line x1="43.50" y1="445.50" x2="46.50" y2="445.50"/><line x1="43.50" y1="436.35" x2="46.50" y2="436.35"/><line x1="43.50" y1="427.20" x2="46.50" y2="427.20"/><line x1="42.20" y1="418.05" x2="46.50" y2="418.05"/><line x1="43.50" y1="408.90" x2="46.50" y2="408.90"/><line x1="43.50" y1="399.75" x2="46.50" y2="399.75"/><line x1="43.50" y1="390.60" x2="46.50" y2="390.60"/><line x1="43.50" y1="381.45" x2="46.50" y2="381.45"/><line x1="42.20" y1="372.30" x2="46.50" y2="372.30"/><line x1="46.50" y1="646.80" x2="46.50" y2="651.10"/><line x1="56.53" y1="646.80" x2="56.53" y2="649.80"/><line x1="66.57" y1="646.80" x2="66.57" y2="649.80"/><line x1="76.60" y1="646.80" x2="76.60" y2="649.80"/><line x1="86.63" y1="646.80" x2="86.63" y2="649.80"/><line x1="96.67" y1="646.80" x2="96.67" y2="651.10"/><line x1="106.70" y1="646.80" x2="106.70" y2="649.80"/><line x1="116.73" y1="646.80" x2="116.73" y2="649.80"/><line x1="126.77" y1="646.80" x2="126.77" y2="649.80"/><line x1="136.80" y1="646.80" x2="136.80" y2="649.80"/><line x1="146.83" y1="646.80" x2="146.83" y2="651.10"/><line x1="156.87" y1="646.80" x2="156.87" y2="649.80"/><line x1="166.90" y1="646.80" x2="166.90" y2="649.80"/><line x1="176.93" y1="646.80" x2="176.93" y2="649.80"/><line x1="186.97" y1="646.80" x2="186.97" y2="649.80"/><line x1="197.00" y1="646.80" x2="197.00" y2="651.10"/><line x1="207.03" y1="646.80" x2="207.03" y2="649.80"/><line x1="217.07" y1="646.80" x2="217.07" y2="649.80"/><line x1="227.10" y1="646.80" x2="227.10" y2="649.80"/><line x1="237.13" y1="646.80" x2="237.13" y2="649.80"/><line x1="247.17" y1="646.80" x2="247.17" y2="651.10"/><line x1="257.20" y1="646.80" x2="257.20" y2="649.80"/><line x1="267.23" y1="646.80" x2="267.23" y2="649.80"/><line x1="277.27" y1="646.80" x2="277.27" y2="649.80"/><line x1="287.30" y1="646.80" x2="287.30" y2="649.80"/><line x1="297.33" y1="646.80" x2="297.33" y2="651.10"/><line x1="307.37" y1="646.80" x2="307.37" y2="649.80"/><line x1="317.40" y1="646.80" x2="317.40" y2="649.80"/><line x1="327.43" y1="646.80" x2="327.43" y2="649.80"/><line x1="337.47" y1="646.80" x2="337.47" y2="649.80"/><line x1="347.50" y1="646.80" x2="347.50" y2="651.10"/></g><path d="M46.50,372.30V646.80H347.50" stroke="#000" stroke-width="1.4" fill="none" stroke-linecap="square"/><g class="tk"><text x="37.6" y="376.50" text-anchor="end">3</text><text x="37.6" y="422.25" text-anchor="end">2.5</text><text x="37.6" y="468.00" text-anchor="end">2</text><text x="37.6" y="513.75" text-anchor="end">1.5</text><text x="37.6" y="559.50" text-anchor="end">1</text><text x="37.6" y="605.25" text-anchor="end">0.5</text><text x="37.6" y="651.00" text-anchor="end">0</text><text x="45.30" y="664.00" text-anchor="middle">-1.5</text><text x="95.47" y="664.00" text-anchor="middle">-1</text><text x="145.63" y="664.00" text-anchor="middle">-0.5</text><text x="197.00" y="664.00" text-anchor="middle">0</text><text x="247.17" y="664.00" text-anchor="middle">0.5</text><text x="297.33" y="664.00" text-anchor="middle">1</text><text x="347.50" y="664.00" text-anchor="middle">1.5</text></g>
<defs><linearGradient id="cb80" x1="0" y1="0" x2="0" y2="1"><stop offset="0.0000" stop-color="#f8e7ff"/><stop offset="0.0227" stop-color="#e8bfff"/><stop offset="0.0455" stop-color="#db9aff"/><stop offset="0.0682" stop-color="#cd7aff"/><stop offset="0.0909" stop-color="#b750ff"/><stop offset="0.1136" stop-color="#aa36ff"/><stop offset="0.1364" stop-color="#ad34ff"/><stop offset="0.1591" stop-color="#b033ff"/><stop offset="0.1818" stop-color="#c428ff"/><stop offset="0.2045" stop-color="#e419f8"/><stop offset="0.2273" stop-color="#f411e4"/><stop offset="0.2500" stop-color="#fb0bcb"/><stop offset="0.2727" stop-color="#ff068a"/><stop offset="0.2955" stop-color="#ff063e"/><stop offset="0.3182" stop-color="#ff0c23"/><stop offset="0.3409" stop-color="#ff1519"/><stop offset="0.3636" stop-color="#ff2a0e"/><stop offset="0.3864" stop-color="#ff5206"/><stop offset="0.4091" stop-color="#ff8005"/><stop offset="0.4318" stop-color="#ffaa05"/><stop offset="0.4545" stop-color="#fed508"/><stop offset="0.4773" stop-color="#eef20f"/><stop offset="0.5000" stop-color="#d0f919"/><stop offset="0.5227" stop-color="#aafb20"/><stop offset="0.5455" stop-color="#8cfc24"/><stop offset="0.5682" stop-color="#77fb27"/><stop offset="0.5909" stop-color="#66fa28"/><stop offset="0.6136" stop-color="#59fa29"/><stop offset="0.6364" stop-color="#4efa2a"/><stop offset="0.6591" stop-color="#45fa2a"/><stop offset="0.6818" stop-color="#40fa2c"/><stop offset="0.7045" stop-color="#3dfa31"/><stop offset="0.7273" stop-color="#3dfa3a"/><stop offset="0.7500" stop-color="#43fa4e"/><stop offset="0.7727" stop-color="#4efa6c"/><stop offset="0.7955" stop-color="#5cf98e"/><stop offset="0.8182" stop-color="#68f8ae"/><stop offset="0.8409" stop-color="#63f6d1"/><stop offset="0.8636" stop-color="#54e5ef"/><stop offset="0.8864" stop-color="#4ac0fb"/><stop offset="0.9091" stop-color="#3b93fc"/><stop offset="0.9318" stop-color="#286afc"/><stop offset="0.9545" stop-color="#1a46fb"/><stop offset="0.9773" stop-color="#1430fa"/><stop offset="1.0000" stop-color="#1026fa"/></linearGradient></defs><rect x="352.60" y="80.50" width="13.70" height="119.57" fill="url(#cb80)"/><line x1="352.60" y1="91.37" x2="366.30" y2="91.37" stroke="#222" stroke-width="0.9"/><line x1="352.60" y1="102.24" x2="366.30" y2="102.24" stroke="#222" stroke-width="0.9"/><line x1="352.60" y1="113.11" x2="366.30" y2="113.11" stroke="#222" stroke-width="0.9"/><line x1="352.60" y1="123.98" x2="366.30" y2="123.98" stroke="#222" stroke-width="0.9"/><line x1="352.60" y1="134.85" x2="366.30" y2="134.85" stroke="#222" stroke-width="0.9"/><line x1="352.60" y1="145.72" x2="366.30" y2="145.72" stroke="#222" stroke-width="0.9"/><line x1="352.60" y1="156.59" x2="366.30" y2="156.59" stroke="#222" stroke-width="0.9"/><line x1="352.60" y1="167.46" x2="366.30" y2="167.46" stroke="#222" stroke-width="0.9"/><line x1="352.60" y1="178.33" x2="366.30" y2="178.33" stroke="#222" stroke-width="0.9"/><line x1="352.60" y1="189.20" x2="366.30" y2="189.20" stroke="#222" stroke-width="0.9"/><rect x="352.60" y="80.50" width="13.70" height="119.57" fill="none" stroke="#3a3a3a" stroke-width="1.4"/><g class="cb"><text x="373.5" y="85.90">110</text><text x="373.5" y="96.61">105</text><text x="373.5" y="107.32">100</text><text x="373.5" y="118.03">95</text><text x="373.5" y="128.74">90</text><text x="373.5" y="139.45">85</text><text x="373.5" y="150.16">80</text><text x="373.5" y="160.87">75</text><text x="373.5" y="171.58">70</text><text x="373.5" y="182.29">65</text><text x="373.5" y="193.00">60</text><text x="373.5" y="203.71">55</text></g>
<defs><linearGradient id="cb439" x1="0" y1="0" x2="0" y2="1"><stop offset="0.0000" stop-color="#f8e7ff"/><stop offset="0.0227" stop-color="#e8bfff"/><stop offset="0.0455" stop-color="#db9aff"/><stop offset="0.0682" stop-color="#cd7aff"/><stop offset="0.0909" stop-color="#b750ff"/><stop offset="0.1136" stop-color="#aa36ff"/><stop offset="0.1364" stop-color="#ad34ff"/><stop offset="0.1591" stop-color="#b033ff"/><stop offset="0.1818" stop-color="#c428ff"/><stop offset="0.2045" stop-color="#e419f8"/><stop offset="0.2273" stop-color="#f411e4"/><stop offset="0.2500" stop-color="#fb0bcb"/><stop offset="0.2727" stop-color="#ff068a"/><stop offset="0.2955" stop-color="#ff063e"/><stop offset="0.3182" stop-color="#ff0c23"/><stop offset="0.3409" stop-color="#ff1519"/><stop offset="0.3636" stop-color="#ff2a0e"/><stop offset="0.3864" stop-color="#ff5206"/><stop offset="0.4091" stop-color="#ff8005"/><stop offset="0.4318" stop-color="#ffaa05"/><stop offset="0.4545" stop-color="#fed508"/><stop offset="0.4773" stop-color="#eef20f"/><stop offset="0.5000" stop-color="#d0f919"/><stop offset="0.5227" stop-color="#aafb20"/><stop offset="0.5455" stop-color="#8cfc24"/><stop offset="0.5682" stop-color="#77fb27"/><stop offset="0.5909" stop-color="#66fa28"/><stop offset="0.6136" stop-color="#59fa29"/><stop offset="0.6364" stop-color="#4efa2a"/><stop offset="0.6591" stop-color="#45fa2a"/><stop offset="0.6818" stop-color="#40fa2c"/><stop offset="0.7045" stop-color="#3dfa31"/><stop offset="0.7273" stop-color="#3dfa3a"/><stop offset="0.7500" stop-color="#43fa4e"/><stop offset="0.7727" stop-color="#4efa6c"/><stop offset="0.7955" stop-color="#5cf98e"/><stop offset="0.8182" stop-color="#68f8ae"/><stop offset="0.8409" stop-color="#63f6d1"/><stop offset="0.8636" stop-color="#54e5ef"/><stop offset="0.8864" stop-color="#4ac0fb"/><stop offset="0.9091" stop-color="#3b93fc"/><stop offset="0.9318" stop-color="#286afc"/><stop offset="0.9545" stop-color="#1a46fb"/><stop offset="0.9773" stop-color="#1430fa"/><stop offset="1.0000" stop-color="#1026fa"/></linearGradient></defs><rect x="352.60" y="439.30" width="13.70" height="119.57" fill="url(#cb439)"/><line x1="352.60" y1="450.17" x2="366.30" y2="450.17" stroke="#222" stroke-width="0.9"/><line x1="352.60" y1="461.04" x2="366.30" y2="461.04" stroke="#222" stroke-width="0.9"/><line x1="352.60" y1="471.91" x2="366.30" y2="471.91" stroke="#222" stroke-width="0.9"/><line x1="352.60" y1="482.78" x2="366.30" y2="482.78" stroke="#222" stroke-width="0.9"/><line x1="352.60" y1="493.65" x2="366.30" y2="493.65" stroke="#222" stroke-width="0.9"/><line x1="352.60" y1="504.52" x2="366.30" y2="504.52" stroke="#222" stroke-width="0.9"/><line x1="352.60" y1="515.39" x2="366.30" y2="515.39" stroke="#222" stroke-width="0.9"/><line x1="352.60" y1="526.26" x2="366.30" y2="526.26" stroke="#222" stroke-width="0.9"/><line x1="352.60" y1="537.13" x2="366.30" y2="537.13" stroke="#222" stroke-width="0.9"/><line x1="352.60" y1="548.00" x2="366.30" y2="548.00" stroke="#222" stroke-width="0.9"/><rect x="352.60" y="439.30" width="13.70" height="119.57" fill="none" stroke="#3a3a3a" stroke-width="1.4"/><g class="cb"><text x="373.5" y="444.70">110</text><text x="373.5" y="455.41">105</text><text x="373.5" y="466.12">100</text><text x="373.5" y="476.83">95</text><text x="373.5" y="487.54">90</text><text x="373.5" y="498.25">85</text><text x="373.5" y="508.96">80</text><text x="373.5" y="519.67">75</text><text x="373.5" y="530.38">70</text><text x="373.5" y="541.09">65</text><text x="373.5" y="551.80">60</text><text x="373.5" y="562.51">55</text></g>
<text class="ti" x="198.2" y="8.90" text-anchor="middle">Sound Pressure Level [dB]</text>
<text class="xl" x="196.7" y="322.20" text-anchor="middle">X [m]</text>
<text class="xl" transform="translate(11.50,151.00) rotate(-90)" text-anchor="middle">Y [m]</text>
<text class="ti" x="198.2" y="368.00" text-anchor="middle">Sound Pressure Level [dB]</text>
<text class="xl" x="196.7" y="682.70" text-anchor="middle">X [m]</text>
<text class="xl" transform="translate(11.50,510.60) rotate(-90)" text-anchor="middle">Y [m]</text>
<text class="cap" x="168.2" y="344.3"><tspan font-weight="bold">(a)</tspan><tspan x="190.4">12m/s</tspan></text>
<text class="cap" x="165.2" y="706.1"><tspan font-weight="bold">(b)</tspan><tspan x="187.5">15m/s</tspan></text>
</svg>
</body></html>
